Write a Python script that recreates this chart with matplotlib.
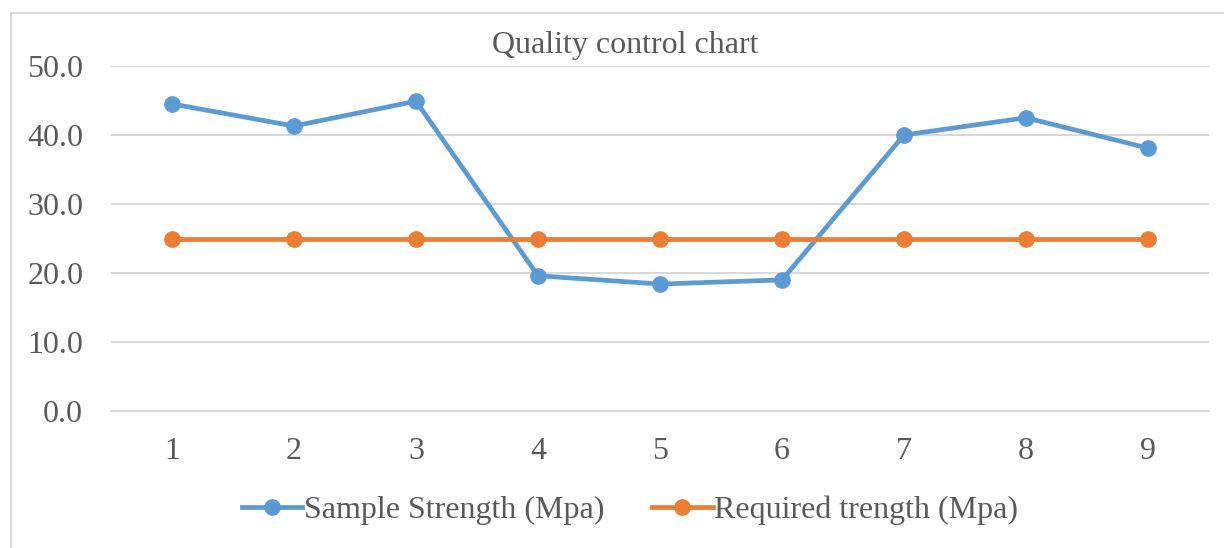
import matplotlib.pyplot as plt
from matplotlib.patches import Rectangle

plt.rcParams['font.family'] = ['Liberation Serif', 'DejaVu Serif']

samples = [1, 2, 3, 4, 5, 6, 7, 8, 9]
sample_strength = [44.5, 41.3, 44.9, 19.6, 18.4, 19.0, 40.0, 42.5, 38.1]
required_strength = [25, 25, 25, 25, 25, 25, 25, 25, 25]
y_ticks = [0, 10, 20, 30, 40, 50]

text_col = '#595959'
grid_col = '#d9d9d9'

fig = plt.figure(figsize=(12.24, 5.48), dpi=100)
# chart frame (runs off the right and bottom edges)
fig.patches.append(Rectangle((11 / 1224, -0.05), 1.0, 1.05 - 13 / 548, transform=fig.transFigure,
                             fill=False, edgecolor=grid_col, linewidth=1.5))

ax = fig.add_axes([111 / 1224, 137 / 548, 1098 / 1224, 345 / 548])
ax.plot(samples, sample_strength, color='#5b9bd5', lw=3.4, marker='o', ms=11,
        label='Sample Strength (Mpa)', zorder=3)
ax.plot(samples, required_strength, color='#ed7d31', lw=3.4, marker='o', ms=11,
        label='Required trength (Mpa)', zorder=3)

ax.set_xlim(0.5, 9.5)
ax.set_ylim(0, 50)
ax.set_xticks(samples)
ax.set_yticks(y_ticks)
ax.set_yticklabels([f'{v:.1f}' for v in y_ticks])
ax.tick_params(length=0, labelsize=23, labelcolor=text_col)
ax.tick_params(axis='x', pad=19)
ax.tick_params(axis='y', pad=20)
ax.grid(axis='y', color=grid_col, lw=1.5)
ax.set_axisbelow(True)
for s in ax.spines.values():
    s.set_visible(False)
ax.spines['bottom'].set_visible(True)
ax.spines['bottom'].set_color(grid_col)
ax.spines['bottom'].set_linewidth(1.5)

fig.text(625 / 1224, 1 - 45 / 548, 'Quality control chart', ha='center', va='center',
         fontsize=23, color=text_col)

leg = fig.legend(loc='center', bbox_to_anchor=(630 / 1224, 1 - 510 / 548), ncol=2,
                 frameon=False, fontsize=23, handlelength=1.9, handletextpad=0.05,
                 columnspacing=1.5, borderpad=0)
for t in leg.get_texts():
    t.set_color(text_col)

fig.savefig('out.png', dpi=100)
